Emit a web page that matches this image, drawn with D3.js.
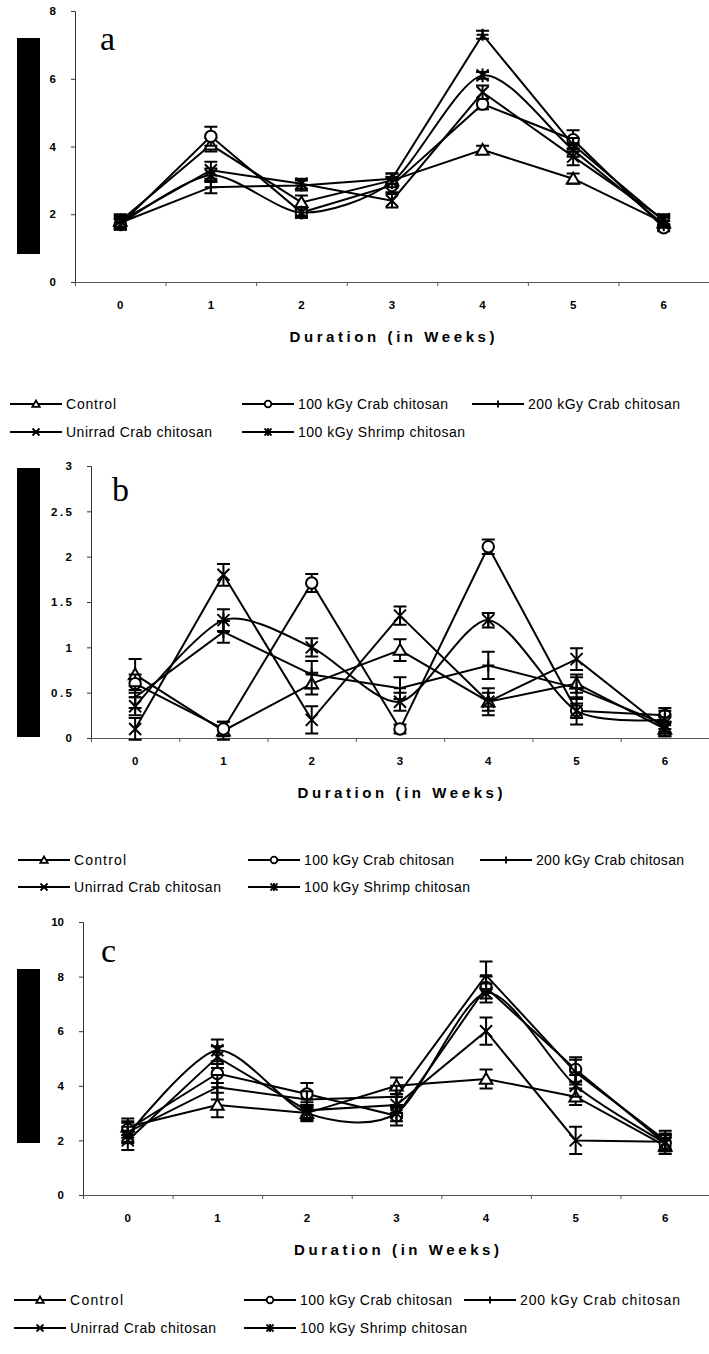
<!DOCTYPE html>
<html><head><meta charset="utf-8">
<script src="https://cdn.jsdelivr.net/npm/d3@7"></script>
<style>body{margin:0;background:#fff} svg{display:block}</style>
</head><body><svg id="chart" width="709" height="1354"></svg>
<script>
const weeks = ["0","1","2","3","4","5","6"];
const seriesNames = ["Control","100 kGy Crab chitosan","200 kGy Crab chitosan","Unirrad Crab chitosan","100 kGy Shrimp chitosan"];
const seriesMarkers = ["triangle","circle","plus","cross","star"];
const xTitle = "Duration (in Weeks)";

const aTicks = [0,2,4,6,8];
const bTicks = [0,0.5,1,1.5,2,2.5,3];
const cTicks = [0,2,4,6,8,10];

// panel a
const aControl = [1.8, 4.05, 2.35, 3.0, 3.9, 3.05, 1.75];
const aCrab100 = [1.7, 4.3, 2.05, 2.85, 5.25, 4.2, 1.6];
const aCrab200 = [1.75, 2.8, 2.85, 3.05, 7.3, 4.05, 1.8];
const aUnirrad = [1.8, 3.3, 2.9, 2.4, 5.6, 3.7, 1.85];
const aShrimp  = [1.7, 3.15, 2.05, 2.95, 6.1, 3.9, 1.7];
const aControlErr = [0.15, 0.2, 0.2, 0.2, 0.12, 0.15, 0.15];
const aCrab100Err = [0.15, 0.28, 0.15, 0.2, 0.15, 0.28, 0.1];
const aCrab200Err = [0.15, 0.18, 0.15, 0.15, 0.12, 0.2, 0.15];
const aUnirradErr = [0.2, 0.25, 0.15, 0.2, 0.2, 0.25, 0.15];
const aShrimpErr  = [0.15, 0.2, 0.1, 0.15, 0.1, 0.2, 0.1];

// panel b
const bControl = [0.7, 0.08, 0.6, 0.97, 0.4, 0.6, 0.1];
const bCrab100 = [0.6, 0.1, 1.71, 0.1, 2.11, 0.3, 0.25];
const bCrab200 = [0.45, 1.17, 0.7, 0.55, 0.8, 0.55, 0.15];
const bUnirrad = [0.1, 1.8, 0.2, 1.35, 0.4, 0.87, 0.1];
const bShrimp  = [0.35, 1.3, 1.0, 0.4, 1.3, 0.3, 0.2];
const bControlErr = [0.17, 0.1, 0.12, 0.12, 0.1, 0.1, 0.08];
const bCrab100Err = [0.1, 0.08, 0.1, 0.05, 0.08, 0.08, 0.08];
const bCrab200Err = [0.12, 0.12, 0.15, 0.12, 0.15, 0.12, 0.08];
const bUnirradErr = [0.12, 0.12, 0.15, 0.1, 0.15, 0.12, 0.08];
const bShrimpErr  = [0.1, 0.12, 0.1, 0.1, 0.08, 0.15, 0.1];

// panel c
const cControl = [2.5, 3.3, 3.0, 4.0, 4.25, 3.6, 1.8];
const cCrab100 = [2.4, 4.45, 3.7, 2.9, 7.6, 4.6, 1.9];
const cCrab200 = [2.3, 3.95, 3.5, 3.6, 8.05, 4.5, 2.0];
const cUnirrad = [2.0, 5.05, 3.1, 3.3, 6.0, 2.0, 1.95];
const cShrimp  = [2.2, 5.3, 3.0, 3.0, 7.4, 4.0, 1.9];
const cControlErr = [0.3, 0.45, 0.25, 0.3, 0.35, 0.3, 0.3];
const cCrab100Err = [0.3, 0.35, 0.4, 0.35, 0.4, 0.45, 0.3];
const cCrab200Err = [0.35, 0.45, 0.3, 0.4, 0.5, 0.45, 0.35];
const cUnirradErr = [0.35, 0.4, 0.3, 0.3, 0.5, 0.5, 0.3];
const cShrimpErr  = [0.3, 0.4, 0.3, 0.3, 0.35, 0.4, 0.3];

const panels = [
  {label:"a", vals:[aControl,aCrab100,aCrab200,aUnirrad,aShrimp], errs:[aControlErr,aCrab100Err,aCrab200Err,aUnirradErr,aShrimpErr],
   ticks:aTicks, x0:75, x1:709, y0:282, yTop:11, labelPos:[100,50], rect:[17,38,23,216],
   legY:[404,432], legX:[10,242,472], legW:[50,150,152,146,167], tickSpacing:0},
  {label:"b", vals:[bControl,bCrab100,bCrab200,bUnirrad,bShrimp], errs:[bControlErr,bCrab100Err,bCrab200Err,bUnirradErr,bShrimpErr],
   ticks:bTicks, x0:91, x1:709, y0:738, yTop:466, labelPos:[112,501], rect:[17,468,23,269],
   legY:[860,887], legX:[18,248,480], legW:[52,150,148,147,166], tickSpacing:2.5},
  {label:"c", vals:[cControl,cCrab100,cCrab200,cUnirrad,cShrimp], errs:[cControlErr,cCrab100Err,cCrab200Err,cUnirradErr,cShrimpErr],
   ticks:cTicks, x0:83, x1:710, y0:1195, yTop:922, labelPos:[101,962], rect:[17,969,23,174],
   legY:[1300,1328], legX:[14,244,464], legW:[53,152,160,146,167], tickSpacing:0}
];

const svg = d3.select("#chart");
const FONT = "'Liberation Sans', Arial, sans-serif";

function markerPath(type, s){
  switch(type){
    case "triangle": return `M0,${-s}L${s*1.05},${s*0.8}L${-s*1.05},${s*0.8}Z`;
    case "plus": return `M${-s},0H${s}M0,${-s}V${s}`;
    case "cross": return `M${-s},${-s}L${s},${s}M${s},${-s}L${-s},${s}`;
    case "star": return `M${-s},${-s}L${s},${s}M${s},${-s}L${-s},${s}M0,${-s*1.15}V${s*1.15}`;
  }
  return "";
}
function drawMarker(g, type, x, y, s, sw){
  if(type === "circle"){
    g.append("circle").attr("cx",x).attr("cy",y).attr("r",s*0.95)
      .attr("fill","#fff").attr("stroke","#000").attr("stroke-width",sw);
  } else {
    g.append("path").attr("transform",`translate(${x},${y})`).attr("d",markerPath(type,s))
      .attr("fill", type==="triangle" ? "#fff" : "none").attr("stroke","#000").attr("stroke-width",sw);
  }
}

panels.forEach(p => {
  const g = svg.append("g");
  const yMax = p.ticks[p.ticks.length-1];
  const y = d3.scaleLinear().domain([0,yMax]).range([p.y0,p.yTop]);
  const xb = d3.scaleBand().domain(weeks).range([p.x0,p.x1]);
  const xl = d3.scaleLinear().domain([0,weeks.length]).range([p.x0,p.x1]);
  const cx = w => xb(w) + xb.bandwidth()/2;

  // redaction block (y-axis title)
  g.append("rect").attr("x",p.rect[0]).attr("y",p.rect[1]).attr("width",p.rect[2]).attr("height",p.rect[3]).attr("fill","#000");

  // y axis
  const ya = g.append("g").attr("transform",`translate(${p.x0},0)`)
    .call(d3.axisLeft(y).tickValues(p.ticks).tickSize(4).tickPadding(15).tickFormat(d=>String(d)));
  ya.selectAll("path,line").attr("stroke","#333");
  ya.selectAll("text").attr("font-family",FONT).attr("font-weight","bold").attr("font-size","11.5px")
    .attr("fill","#000").attr("letter-spacing", p.tickSpacing+"px").attr("dx", p.tickSpacing? p.tickSpacing : 0);

  // x axis (tick marks at band edges)
  const xa = g.append("g").attr("transform",`translate(0,${p.y0})`)
    .call(d3.axisBottom(xl).tickValues(d3.range(weeks.length+1)).tickSize(4).tickSizeOuter(0).tickFormat(""));
  xa.selectAll("path,line").attr("stroke","#555");
  const xt = g.append("g").attr("transform",`translate(0,${p.y0})`)
    .call(d3.axisBottom(xb).tickSize(0).tickPadding(19));
  xt.select(".domain").remove();
  xt.selectAll("text").attr("font-family",FONT).attr("font-weight","bold").attr("font-size","11.5px").attr("fill","#000");

  // x title
  g.append("text").attr("x",(p.x0+p.x1)/2).attr("y",p.y0+60).attr("text-anchor","middle")
    .attr("font-family",FONT).attr("font-weight","bold").attr("font-size","15px")
    .attr("textLength",205).attr("lengthAdjust","spacing").text(xTitle);

  // panel label
  g.append("text").attr("x",p.labelPos[0]).attr("y",p.labelPos[1])
    .attr("font-family","'Liberation Serif','Times New Roman',serif").attr("font-size","34px").text(p.label);

  // series
  const line = d3.line().x((d,i)=>cx(weeks[i])).y(d=>y(d));
  p.vals.forEach((vals,si) => {
    const sg = g.append("g");
    const ln = (si===4) ? d3.line().x((d,i)=>cx(weeks[i])).y(d=>y(d)).curve(d3.curveCardinal.tension(0.2)) : line;
    sg.append("path").attr("d",ln(vals)).attr("fill","none").attr("stroke","#000").attr("stroke-width",2);
    vals.forEach((v,i) => {
      const e = p.errs[si][i];
      const xx = cx(weeks[i]);
      sg.append("path").attr("d",`M${xx},${y(v-e)}V${y(v+e)}M${xx-6.5},${y(v-e)}H${xx+6.5}M${xx-6.5},${y(v+e)}H${xx+6.5}`)
        .attr("stroke","#000").attr("stroke-width",2).attr("fill","none");
    });
    vals.forEach((v,i) => drawMarker(sg, seriesMarkers[si], cx(weeks[i]), y(v), 6, 2));
  });

  // legend
  const slots = [[0,0],[0,1],[0,2],[1,0],[1,1]];
  slots.forEach(([r,c],si) => {
    const lx = p.legX[c], ly = p.legY[r];
    const lg = g.append("g");
    lg.append("line").attr("x1",lx).attr("x2",lx+52).attr("y1",ly).attr("y2",ly).attr("stroke","#000").attr("stroke-width",2);
    drawMarker(lg, seriesMarkers[si], lx+26, ly, 3.5, 1.8);
    lg.append("text").attr("x",lx+56).attr("y",ly+5).attr("font-family",FONT).attr("font-size","14px")
      .attr("textLength",p.legW[si]).attr("lengthAdjust","spacing").text(seriesNames[si]);
  });
});
</script></body></html>
